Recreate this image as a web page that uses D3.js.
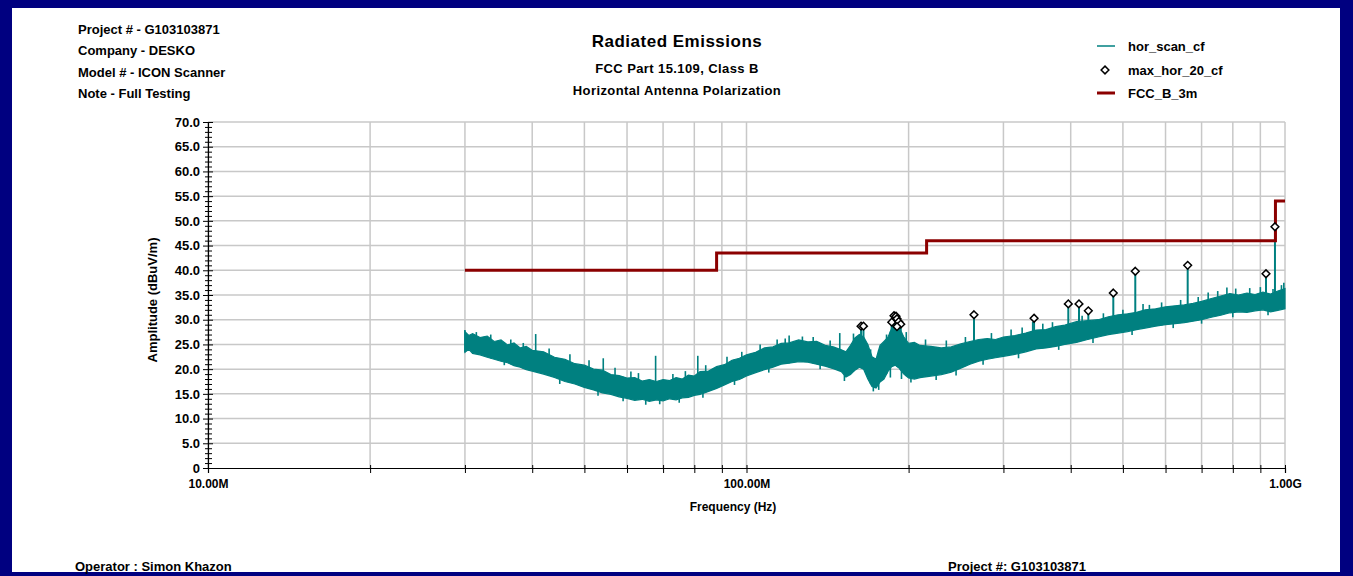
<!DOCTYPE html>
<html>
<head>
<meta charset="utf-8">
<script src="https://cdn.jsdelivr.net/npm/d3@7"></script>
<style>
  body { margin: 0; background: #fff; }
  text { font-family: "Liberation Sans", Arial, sans-serif; font-weight: bold; fill: #000; }
</style>
</head>
<body>
<div id="chart"></div>
<script>
// Define constants
const WIDTH = 1353;
const HEIGHT = 576;
const COLOUR_TRACE = "#008080";
const COLOUR_LIMIT = "#8b0000";
const COLOUR_GRID = "#c8c8c8";
const COLOUR_FRAME = "#000080";

// Header / footer text
const headerLines = ["Project # - G103103871", "Company - DESKO", "Model # - ICON Scanner", "Note - Full Testing"];
const titleLines = ["Radiated Emissions", "FCC Part 15.109, Class B", "Horizontal Antenna Polarization"];
const legendNames = ["hor_scan_cf", "max_hor_20_cf", "FCC_B_3m"];

// Axis ticks
const yTickValues = [0, 5, 10, 15, 20, 25, 30, 35, 40, 45, 50, 55, 60, 65, 70];
const yTickLabels = ["0", "5.0", "10.0", "15.0", "20.0", "25.0", "30.0", "35.0", "40.0", "45.0", "50.0", "55.0", "60.0", "65.0", "70.0"];
const xGridValues = [10, 20, 30, 40, 50, 60, 70, 80, 90, 100, 200, 300, 400, 500, 600, 700, 800, 900, 1000];
const xTickValues = [10, 100, 1000];
const xTickLabels = ["10.00M", "100.00M", "1.00G"];

// FCC class B 3m limit (MHz, dBuV/m) - step after each frequency
const limitFreq = [30, 88, 216, 960, 1000];
const limitVal = [40, 43.5, 46, 54, 54];

// hor_scan_cf trace, read as an envelope (MHz, upper dB, lower dB)
const traceFreq = [30, 30.5, 31, 32, 33, 34, 35, 36, 37, 38, 39, 40, 42, 44, 46, 48, 50, 52, 54, 56, 58,
  60, 62, 64, 66, 68, 70, 72, 74, 76, 78, 80, 82, 85, 88, 91, 94, 97, 100, 104, 108, 112, 116, 120,
  125, 130, 135, 140, 145, 150, 153, 156, 159, 162, 165, 168, 171, 174, 177, 180, 183, 186, 189, 192,
  196, 200, 205, 210, 220, 230, 240, 250, 260, 270, 280, 290, 300, 315, 330, 345, 360, 375, 390, 410,
  430, 450, 470, 490, 510, 530, 550, 575, 600, 625, 650, 675, 700, 730, 760, 790, 820, 850, 880, 910,
  940, 970, 1000];
const traceHi = [27.6, 26.8, 27.2, 26.4, 26.7, 25.6, 25.9, 24.9, 25.3, 24.3, 24.6, 23.8, 23.5, 22.4, 22.0, 21.1, 20.8, 20.0, 19.8, 18.9, 18.7,
  18.2, 18.3, 17.6, 17.9, 17.5, 17.9, 17.7, 18.3, 18.0, 18.8, 18.6, 19.5, 19.6, 20.5, 20.9, 21.8, 22.2, 22.9, 23.4, 24.3, 24.5, 25.2, 25.3,
  25.9, 25.5, 25.6, 24.8, 24.5, 23.9, 23.5, 24.8, 26.3, 27.0, 26.5, 25.0, 22.5, 22.0, 24.8, 25.6, 26.4, 28.2, 29.0, 28.4,
  26.5, 25.2, 25.4, 24.8, 24.6, 24.3, 24.5, 25.1, 25.6, 26.0, 26.2, 26.0, 26.5, 26.8, 27.3, 27.9, 28.0, 28.6, 28.9, 29.6,
  29.8, 30.0, 30.6, 31.0, 31.2, 31.5, 32.0, 32.2, 32.6, 32.8, 33.0, 33.3, 33.7, 34.3, 34.8, 35.3, 35.0, 35.4, 35.1, 35.6,
  35.2, 35.8, 36.3];
const traceLo = [23.4, 24.0, 23.2, 22.9, 22.4, 22.0, 21.6, 21.3, 20.7, 20.4, 19.9, 19.6, 19.0, 18.3, 17.5, 17.0, 16.3, 15.8, 15.2, 14.9, 14.4,
  14.1, 13.7, 13.9, 13.5, 13.8, 13.6, 14.0, 13.8, 14.2, 14.3, 14.7, 14.9, 15.5, 16.1, 16.8, 17.5, 17.9, 18.6, 19.3, 19.9, 20.4, 21.0, 21.2,
  21.5, 21.4, 21.0, 20.6, 20.1, 19.5, 18.4, 18.9, 19.8, 20.4, 20.0, 18.0, 16.5, 16.2, 17.4, 18.0, 19.5, 20.5, 20.8, 20.2,
  19.0, 18.2, 18.0, 18.3, 18.6, 18.9, 19.4, 20.2, 21.0, 21.6, 22.0, 22.3, 22.6, 23.0, 23.5, 24.1, 24.3, 24.6, 25.0, 25.4,
  26.0, 26.5, 27.0, 27.3, 27.6, 28.0, 28.3, 28.7, 29.0, 29.2, 29.4, 29.7, 30.0, 30.5, 30.9, 31.4, 31.6, 31.5, 31.8, 32.0,
  31.6, 31.9, 32.2];

// narrow needles sticking up out of the noise (MHz, dB)
const needleFreq = [30, 31.5, 33.5, 36.5, 38.5, 40.6, 43, 47, 51, 54.2, 57, 61, 63, 67.8, 73, 77, 81.2, 84, 92, 98,
  106, 114, 118, 120, 127, 133, 143, 149, 158, 170, 182, 186, 198, 215, 235, 255, 285, 310, 325, 340, 355, 370,
  420, 460, 500, 545, 560, 590, 640, 690, 720, 750, 780, 810, 860, 900, 950, 985, 995];
const needleVal = [27.9, 27.5, 27.0, 26.0, 25.3, 27.1, 24.2, 23.0, 21.8, 22.2, 20.3, 19.5, 19.2, 22.7, 19.0, 19.6, 22.7, 20.8, 22.5, 23.5,
  25.0, 26.0, 26.2, 26.8, 26.6, 26.5, 25.8, 27.3, 27.2, 24.0, 27.0, 30.0, 27.5, 26.0, 25.8, 26.5, 27.3, 28.0, 28.4, 29.6, 29.2, 29.5,
  30.8, 31.3, 32.0, 33.2, 33.0, 33.5, 34.0, 34.6, 35.5, 35.8, 36.5, 36.3, 36.4, 36.6, 36.2, 37.0, 37.5];

// narrow needles dropping below the noise (MHz, dB)
const dipFreq = [35.5, 45, 53, 59, 65, 69, 75, 83, 95, 110, 137, 152, 172, 176, 185, 194, 202, 225, 245, 275, 320, 380, 440, 520, 620, 700, 800, 930];
const dipVal = [20.8, 17.0, 14.6, 13.5, 12.8, 12.9, 13.2, 14.2, 16.8, 19.3, 20.0, 17.6, 15.5, 15.8, 18.3, 18.0, 17.3, 17.8, 18.7, 20.9, 22.2, 23.9, 25.3, 26.9, 28.3, 29.2, 30.5, 30.9];

// max_hor_20_cf peaks (MHz, dB)
const peakFreq = [163.2, 164.9, 186.1, 187.9, 189.5, 190.3, 191.7, 193.4, 190.3, 264.5, 342.0, 395.9, 414.4, 431.3, 479.9, 527.2, 659.6, 921.9, 958.0];
const peakVal = [28.7, 28.7, 29.5, 30.8, 30.7, 30.2, 29.6, 29.1, 28.6, 31.0, 30.3, 33.2, 33.2, 31.8, 35.4, 39.8, 41.0, 39.3, 48.8];

// Set up SVG canvas
let svg = d3.select("#chart")
            .append("svg")
            .attr("width", WIDTH)
            .attr("height", HEIGHT);

// navy frame
svg.append("rect").attr("width", WIDTH).attr("height", HEIGHT).attr("fill", COLOUR_FRAME);
svg.append("rect").attr("x", 12).attr("y", 8).attr("width", WIDTH - 25).attr("height", HEIGHT - 12).attr("fill", "#fff");

// Set up scales
let x = d3.scaleLog().domain([10, 1000]).range([208, 1285]);
let y = d3.scaleLinear().domain([0, 70]).range([468, 122]);

// Grid lines
svg.append("g").selectAll("line")
    .data(xGridValues)
    .join("line")
    .attr("x1", d => x(d)).attr("x2", d => x(d))
    .attr("y1", y(70)).attr("y2", y(0))
    .attr("stroke", COLOUR_GRID).attr("stroke-width", 1.5);

svg.append("g").selectAll("line")
    .data(yTickValues.slice(1))
    .join("line")
    .attr("x1", x(10)).attr("x2", x(1000))
    .attr("y1", d => y(d)).attr("y2", d => y(d))
    .attr("stroke", COLOUR_GRID).attr("stroke-width", 1.5);

// Trace band
let area = d3.area()
    .x((d, i) => x(traceFreq[i]))
    .y0((d, i) => y(traceLo[i]))
    .y1((d, i) => y(traceHi[i]));

svg.append("path")
    .datum(traceFreq)
    .attr("d", area)
    .attr("fill", COLOUR_TRACE)
    .attr("stroke", COLOUR_TRACE)
    .attr("stroke-width", 1.2);

// band edges at any frequency, for needle starts
let loAt = d3.scaleLog().domain(traceFreq).range(traceLo);
let hiAt = d3.scaleLog().domain(traceFreq).range(traceHi);

svg.append("g").selectAll("line")
    .data(needleFreq)
    .join("line")
    .attr("x1", d => x(d)).attr("x2", d => x(d))
    .attr("y1", d => y(loAt(d)))
    .attr("y2", (d, i) => y(needleVal[i]))
    .attr("stroke", COLOUR_TRACE).attr("stroke-width", 1.6);

svg.append("g").selectAll("line")
    .data(dipFreq)
    .join("line")
    .attr("x1", d => x(d)).attr("x2", d => x(d))
    .attr("y1", d => y(hiAt(d)))
    .attr("y2", (d, i) => y(dipVal[i]))
    .attr("stroke", COLOUR_TRACE).attr("stroke-width", 1.6);

svg.append("g").selectAll("line")
    .data(peakFreq)
    .join("line")
    .attr("x1", d => x(d)).attr("x2", d => x(d))
    .attr("y1", d => y(loAt(d)))
    .attr("y2", (d, i) => y(peakVal[i]))
    .attr("stroke", COLOUR_TRACE).attr("stroke-width", 2);

// Limit line
let limitLine = d3.line()
    .x((d, i) => x(limitFreq[i]))
    .y((d, i) => y(limitVal[i]))
    .curve(d3.curveStepAfter);

svg.append("path")
    .datum(limitFreq)
    .attr("d", limitLine)
    .attr("fill", "none")
    .attr("stroke", COLOUR_LIMIT)
    .attr("stroke-width", 3);

// Peak markers - square diamond
let diamond = d3.symbol().type(d3.symbolDiamond2).size(38);
svg.append("g").selectAll("path")
    .data(peakFreq)
    .join("path")
    .attr("transform", (d, i) => `translate(${x(d)},${y(peakVal[i])})`)
    .attr("d", diamond)
    .attr("fill", "#fff")
    .attr("stroke", "#000")
    .attr("stroke-width", 1.5);

// Axes
let yAxis = d3.axisLeft(y)
    .tickValues(yTickValues)
    .tickFormat((d, i) => yTickLabels[i])
    .tickSize(5)
    .tickPadding(3);
let gy = svg.append("g").attr("transform", `translate(${x(10)},0)`).call(yAxis);
gy.select(".domain").attr("stroke-width", 1.2);
gy.selectAll(".tick line").attr("x1", 5);
gy.selectAll(".tick text").style("font-size", "13px");

let yMinor = d3.axisLeft(y)
    .tickValues(d3.range(0, 71).filter(d => d % 5 !== 0))
    .tickFormat("")
    .tickSize(3);
let gym = svg.append("g").attr("transform", `translate(${x(10)},0)`).call(yMinor);
gym.select(".domain").remove();
gym.selectAll(".tick line").attr("x1", 4);

let xAxis = d3.axisBottom(x)
    .tickValues(xGridValues)
    .tickFormat(d => {
        let k = xTickValues.indexOf(d);
        return k >= 0 ? xTickLabels[k] : "";
    })
    .tickSize(5)
    .tickPadding(6);
let gx = svg.append("g").attr("transform", `translate(0,${y(0)})`).call(xAxis);
gx.select(".domain").attr("stroke-width", 1.2);
gx.selectAll(".tick line").attr("y1", -3);
gx.selectAll(".tick text").style("font-size", "12px");

svg.selectAll(".tick text").style("font-family", "'Liberation Sans', Arial, sans-serif").style("font-weight", "bold");

// Axis titles
svg.append("text")
    .attr("transform", "translate(157,300) rotate(-90)")
    .attr("text-anchor", "middle")
    .style("font-size", "13px")
    .text("Amplitude (dBuV/m)");

svg.append("text")
    .attr("x", 733).attr("y", 511)
    .attr("text-anchor", "middle")
    .style("font-size", "12px")
    .text("Frequency (Hz)");

// Header
svg.append("g").selectAll("text")
    .data(headerLines)
    .join("text")
    .attr("x", 78)
    .attr("y", (d, i) => [34, 55, 77, 98][i])
    .style("font-size", "13px")
    .text(d => d);

svg.append("g").selectAll("text")
    .data(titleLines)
    .join("text")
    .attr("x", 677)
    .attr("y", (d, i) => [47, 73, 95][i])
    .attr("text-anchor", "middle")
    .style("font-size", (d, i) => i === 0 ? "17px" : "13px")
    .style("letter-spacing", (d, i) => i === 0 ? "0.5px" : "0.4px")
    .text(d => d);

// Legend
let legend = svg.append("g");
legend.append("line").attr("x1", 1097).attr("x2", 1115).attr("y1", 46).attr("y2", 46)
    .attr("stroke", COLOUR_TRACE).attr("stroke-width", 1.5);
legend.append("path").attr("transform", "translate(1105,70)").attr("d", diamond)
    .attr("fill", "#fff").attr("stroke", "#000").attr("stroke-width", 1.5);
legend.append("line").attr("x1", 1097).attr("x2", 1115).attr("y1", 93).attr("y2", 93)
    .attr("stroke", COLOUR_LIMIT).attr("stroke-width", 3);
legend.selectAll("text")
    .data(legendNames)
    .join("text")
    .attr("x", 1128)
    .attr("y", (d, i) => [51, 75, 98][i])
    .style("font-size", "13px")
    .text(d => d);

// Footer
svg.append("text").attr("x", 75).attr("y", 571).style("font-size", "13px").text("Operator : Simon Khazon");
svg.append("text").attr("x", 948).attr("y", 571).style("font-size", "13px").text("Project #: G103103871");
</script>
</body>
</html>
